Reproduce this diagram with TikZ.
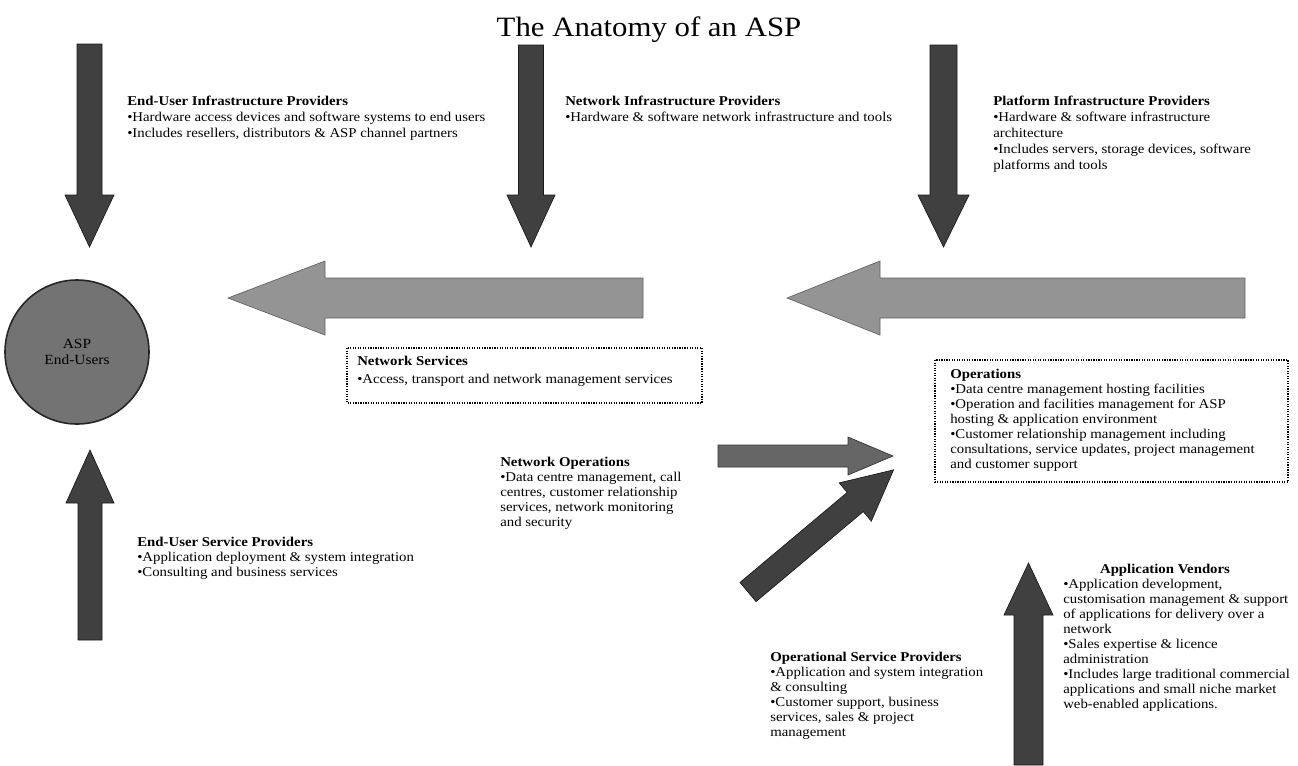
\documentclass[tikz,border=0pt]{standalone}
\usepackage{fontspec}
\setmainfont{Liberation Serif}[FakeStretch=1.1]
\tikzset{
  pics/barrow/.style n args={4}{code={
    \path[pic actions] (0,{-#2}) -- ({#1-#4},{-#2}) -- ({#1-#4},{-#3}) -- (#1,0)
      -- ({#1-#4},{#3}) -- ({#1-#4},{#2}) -- (0,{#2}) -- cycle;
  }},
  darkarr/.style={fill=black!75, draw=black!90, line width=0.5pt},
  midarr/.style={fill=black!60, draw=black!80, line width=0.5pt},
  lightarr/.style={fill=black!42, draw=black!62, line width=0.5pt},
  body/.style={font=\fontsize{10.1pt}{11.25pt}\selectfont, align=left, inner sep=0pt, anchor=north west},
  bodyw/.style={body, font=\fontsize{10.1pt}{12pt}\selectfont},
  dotbox/.style={draw=black, densely dotted, line width=0.9pt},
}
\begin{document}
\begin{tikzpicture}[x=0.75pt,y=-0.75pt]
\fill[white] (0,0) rectangle (1298,765);
\useasboundingbox (0,0) rectangle (1298,765);

% title
\node (title) [font=\fontsize{21pt}{25pt}\selectfont, anchor=base, inner sep=0pt] at (649,36) {The Anatomy of an ASP};

% vertical down arrows
\pic[darkarr, rotate=-90] at (89.5,44) {barrow={203}{12.5}{24.5}{52}};
\pic[darkarr, rotate=-90] at (531,45) {barrow={202}{12.5}{24}{52}};
\pic[darkarr, rotate=-90] at (943.5,45) {barrow={202}{13.5}{25.5}{52}};

% horizontal arrows
\pic[lightarr, rotate=180] at (643,298) {barrow={415}{20}{37}{97}};
\pic[lightarr, rotate=180] at (1245,298) {barrow={458}{20}{37}{93}};

% up arrows
\pic[darkarr, rotate=90] at (90,640) {barrow={190}{12}{24}{53}};
\pic[darkarr, rotate=90] at (1028.5,765) {barrow={202}{14.5}{24.5}{52}};

% middle right arrow and diagonal
\pic[midarr] at (718,456) {barrow={175}{11}{19}{45}};
\pic[darkarr, rotate=40] at (748,592) {barrow={190}{12.5}{25}{50}};

% circle
\node (users) [circle, fill=black!55, draw=black!85, line width=1.2pt, minimum size=108pt,
  font=\fontsize{10.5pt}{12.5pt}\selectfont, align=center, inner sep=0pt] at (77,352) {ASP\\End-Users};

% text blocks
\node (euip) [bodyw] at (127,96) {\textbf{End-User Infrastructure Providers}\\
•Hardware access devices and software systems to end users\\
•Includes resellers, distributors \& ASP channel partners};

\node (nip) [bodyw] at (565,96) {\textbf{Network Infrastructure Providers}\\
•Hardware \& software network infrastructure and tools};

\node (pip) [bodyw] at (993,96) {\textbf{Platform Infrastructure Providers}\\
•Hardware \& software infrastructure\\
architecture\\
•Includes servers, storage devices, software\\
platforms and tools};

\draw[dotbox] (347,348) rectangle (702,403);
\node (ns) [body, font=\fontsize{10.1pt}{13.5pt}\selectfont] at (357,356) {\textbf{Network Services}\\
•Access, transport and network management services};

\draw[dotbox] (935,360) rectangle (1288,482);
\node (ops) [body] at (950,369) {\textbf{Operations}\\
•Data centre management hosting facilities\\
•Operation and facilities management for ASP\\
hosting \& application environment\\
•Customer relationship management including\\
consultations, service updates, project management\\
and customer support};

\node (netops) [body] at (500,457) {\textbf{Network Operations}\\
•Data centre management, call\\
centres, customer relationship\\
services, network monitoring\\
and security};

\node (eusp) [body] at (137,537) {\textbf{End-User Service Providers}\\
•Application deployment \& system integration\\
•Consulting and business services};

\node (osp) [body] at (770,652) {\textbf{Operational Service Providers}\\
•Application and system integration\\
\& consulting\\
•Customer support, business\\
services, sales \& project\\
management};

\node (avt) [font=\fontsize{10.1pt}{11.25pt}\selectfont\bfseries, inner sep=0pt] at (1165,570) {Application Vendors};
\node (av) [body] at (1063,579) {•Application development,\\
customisation management \& support\\
of applications for delivery over a\\
network\\
•Sales expertise \& licence\\
administration\\
•Includes large traditional commercial\\
applications and small niche market\\
web-enabled applications.};
\end{tikzpicture}
\end{document}
